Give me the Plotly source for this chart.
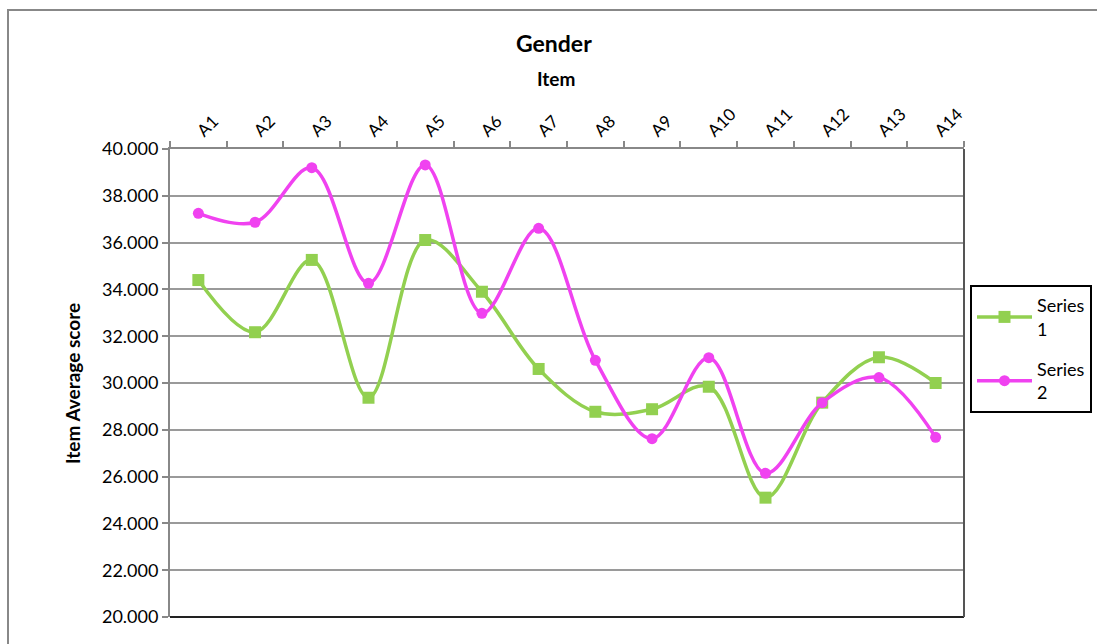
import plotly.graph_objects as go

items = ["A1", "A2", "A3", "A4", "A5", "A6", "A7", "A8", "A9", "A10", "A11", "A12", "A13", "A14"]
series_1 = [34.40, 32.17, 35.26, 29.37, 36.11, 33.90, 30.60, 28.77, 28.88, 29.84, 25.10, 29.16, 31.10, 30.00]
series_2 = [37.25, 36.87, 39.20, 34.26, 39.32, 32.98, 36.61, 30.97, 27.62, 31.08, 26.14, 29.16, 30.23, 27.68]
y_ticks = [20, 22, 24, 26, 28, 30, 32, 34, 36, 38, 40]

FONT = "Lato, Calibri, Carlito, sans-serif"
GREEN = "#92D050"
MAGENTA = "#F042F0"

fig = go.Figure()
fig.add_trace(go.Scatter(
    x=items, y=series_1, name="Series<br>1", mode="lines+markers", legendgroup="s1",
    line=dict(color=GREEN, width=3.5, shape="spline", smoothing=1.0),
    marker=dict(symbol="square", size=12, color=GREEN),
))
fig.add_trace(go.Scatter(
    x=items, y=series_2, name="Series<br>2", mode="lines+markers", legendgroup="s2",
    line=dict(color=MAGENTA, width=3.5, shape="spline", smoothing=1.0),
    marker=dict(symbol="circle", size=11, color=MAGENTA),
))

# plot area: x 170..964, y 149..617 in a 1097x644 page
L, R, T, B = 170, 964, 149, 617
W, H = R - L, B - T

def px_x(x):
    return (x - L) / W

def px_y(y):
    return (B - y) / H

fig.update_layout(
    width=1097, height=644,
    margin=dict(l=L, r=1097 - R, t=T, b=644 - B, autoexpand=False),
    paper_bgcolor="white", plot_bgcolor="white",
    font=dict(family=FONT, size=18, color="#000"),
    showlegend=True,
    legend=dict(
        x=px_x(970), y=px_y(285), xanchor="left", yanchor="top",
        bordercolor="#000", borderwidth=2, bgcolor="white",
        font=dict(family=FONT, size=18, color="#000"),
        tracegroupgap=14, itemwidth=55,
    ),
    xaxis=dict(
        side="top", type="category", range=[-0.5, len(items) - 0.5],
        tickangle=-45, ticks="outside", tickson="boundaries", ticklen=6,
        tickcolor="#888", tickwidth=1.5,
        showline=True, linecolor="#888", linewidth=2,
        showgrid=False, zeroline=False,
        tickfont=dict(family=FONT, size=17),
    ),
    yaxis=dict(
        range=[20, 40], tickvals=y_ticks, tickformat=".3f",
        ticks="outside", ticklen=6, tickcolor="#888", tickwidth=1.5,
        showline=True, linecolor="#888", linewidth=2,
        showgrid=True, gridcolor="#9A9A9A", gridwidth=2, zeroline=False,
        tickfont=dict(family=FONT, size=18),
    ),
    shapes=[
        # outer chart frame
        dict(type="rect", xref="paper", yref="paper",
             x0=px_x(8), y0=px_y(660), x1=px_x(1110), y1=px_y(10),
             line=dict(color="#888", width=2), fillcolor="rgba(0,0,0,0)", layer="below"),
        # bottom and right edges of the plot area
        dict(type="line", xref="paper", yref="paper", x0=0, y0=0, x1=1, y1=0,
             line=dict(color="#222", width=2)),
        dict(type="line", xref="paper", yref="paper", x0=1, y0=0, x1=1, y1=1,
             line=dict(color="#555", width=2)),
    ],
    annotations=[
        dict(text="<b>Gender</b>", xref="paper", yref="paper",
             x=px_x(554), y=px_y(43), xanchor="center", yanchor="middle",
             showarrow=False, font=dict(family=FONT, size=23)),
        dict(text="<b>Item</b>", xref="paper", yref="paper",
             x=px_x(556), y=px_y(78), xanchor="center", yanchor="middle",
             showarrow=False, font=dict(family=FONT, size=19)),
        dict(text="<b>Item Average score</b>", xref="paper", yref="paper",
             x=px_x(72), y=px_y(384), xanchor="center", yanchor="middle",
             textangle=-90, showarrow=False, font=dict(family=FONT, size=19)),
    ],
)

fig.write_html("out.html")
